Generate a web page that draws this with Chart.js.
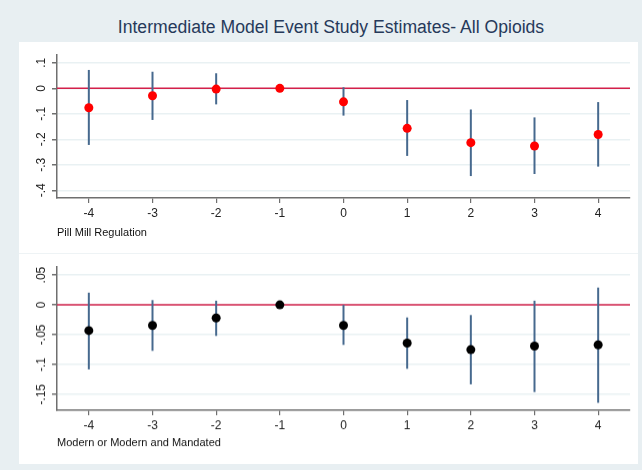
<!DOCTYPE html>
<html lang="en">
<head>
  <meta charset="UTF-8">
  <title>Intermediate Model Event Study Estimates</title>
  <script src="https://cdn.jsdelivr.net/npm/chart.js"></script>
  <style>
    body {
      margin: 0;
      width: 642px;
      height: 470px;
      background: #e8eff2;
      font-family: 'Liberation Sans', Arial, sans-serif;
      overflow: hidden;
      position: relative;
    }
    #title {
      position: absolute;
      left: 0;
      top: 17px;
      width: 662px;
      text-align: center;
      font-size: 17.6px;
      color: #26395a;
      line-height: 20px;
    }
    .panel {
      position: absolute;
      left: 19px;
      top: 42px;
      width: 619px;
      height: 422px;
      background: #ffffff;
    }
    canvas {
      position: absolute;
      left: 0;
    }
    #pillChart { top: 0; }
    #modChart { top: 211px; border-top: 1px solid #eef3f5; }
  </style>
</head>
<body>

<div id="title">Intermediate Model Event Study Estimates- All Opioids</div>

<div class="panel">
  <canvas id="pillChart" width="619" height="211"></canvas>
  <canvas id="modChart" width="619" height="210"></canvas>
</div>

<script>
  // event time
  const periods = [-4, -3, -2, -1, 0, 1, 2, 3, 4];

  // Pill Mill Regulation
  const pillEst = [-0.076, -0.029, -0.003, 0, -0.053, -0.157, -0.213, -0.226, -0.181];
  const pillLo  = [-0.222, -0.124, -0.063, null, -0.107, -0.265, -0.344, -0.336, -0.307];
  const pillHi  = [0.072, 0.065, 0.059, null, 0.004, -0.046, -0.083, -0.114, -0.054];
  const pillTicks  = [0.1, 0, -0.1, -0.2, -0.3, -0.4];
  const pillLabels = ['.1', '0', '-.1', '-.2', '-.3', '-.4'];

  // Modern or Modern and Mandated
  const modEst = [-0.043, -0.0345, -0.022, 0, -0.0345, -0.064, -0.075, -0.069, -0.067];
  const modLo  = [-0.108, -0.077, -0.052, null, -0.067, -0.107, -0.133, -0.146, -0.164];
  const modHi  = [0.0205, 0.008, 0.007, null, 0.0, -0.021, -0.017, 0.007, 0.029];
  const modTicks  = [0.05, 0, -0.05, -0.1, -0.15];
  const modLabels = ['.05', '0', '-.05', '-.1', '-.15'];

  const axisGrey = '#6f6f6f';
  const ciColor = '#46698e';
  const zeroColor = '#d3204a';

  // zero line, CI spikes and the rotated y labels
  const eventPlugin = {
    id: 'eventPlugin',
    beforeDatasetsDraw(chart) {
      const { ctx, chartArea, scales: { x, y } } = chart;
      const cfg = chart.options.plugins.eventPlugin;
      ctx.save();
      // reference line at zero
      ctx.strokeStyle = zeroColor;
      ctx.lineWidth = 1.5;
      ctx.beginPath();
      ctx.moveTo(chartArea.left, y.getPixelForValue(0));
      ctx.lineTo(chartArea.right, y.getPixelForValue(0));
      ctx.stroke();
      // confidence intervals
      ctx.strokeStyle = ciColor;
      ctx.lineWidth = 2;
      periods.forEach((p, i) => {
        if (cfg.lo[i] === null) return;
        const px = x.getPixelForValue(p);
        ctx.beginPath();
        ctx.moveTo(px, y.getPixelForValue(cfg.lo[i]));
        ctx.lineTo(px, y.getPixelForValue(cfg.hi[i]));
        ctx.stroke();
      });
      ctx.restore();
    },
    afterDraw(chart) {
      const { ctx, scales: { y } } = chart;
      const cfg = chart.options.plugins.eventPlugin;
      ctx.save();
      ctx.fillStyle = '#222';
      ctx.font = '12px "Liberation Sans", Arial, sans-serif';
      ctx.textAlign = 'center';
      ctx.textBaseline = 'middle';
      cfg.ticks.forEach((t, i) => {
        ctx.save();
        ctx.translate(y.left + 23, y.getPixelForValue(t));
        ctx.rotate(-Math.PI / 2);
        ctx.fillText(cfg.labels[i], 0, 0);
        ctx.restore();
      });
      ctx.restore();
    }
  };

  function makePanel(id, est, lo, hi, dotColor, yMin, yMax, yTicks, yLabels, subLabel, padTop, axisH) {
    const ctx = document.getElementById(id).getContext('2d');
    return new Chart(ctx, {
      type: 'scatter',
      data: {
        datasets: [{
          data: periods.map((p, i) => ({ x: p, y: est[i] })),
          backgroundColor: dotColor,
          borderWidth: 0,
          pointRadius: 4.5
        }]
      },
      options: {
        responsive: false,
        animation: false,
        devicePixelRatio: 1,
        layout: { padding: { top: padTop, right: 8, left: 0, bottom: 0 } },
        plugins: {
          legend: { display: false },
          tooltip: { enabled: false },
          eventPlugin: { lo: lo, hi: hi, ticks: yTicks, labels: yLabels }
        },
        scales: {
          x: {
            type: 'linear',
            min: -4.5,
            max: 4.5,
            afterBuildTicks: s => { s.ticks = periods.map(v => ({ value: v })); },
            afterFit: s => { s.height = axisH; },
            ticks: {
              color: '#222',
              font: { family: '"Liberation Sans", Arial, sans-serif', size: 12 },
              padding: 3,
              callback: v => String(v)
            },
            grid: { drawOnChartArea: false, tickLength: 5, tickColor: axisGrey, lineWidth: 1.2 },
            border: { color: axisGrey, width: 1.5 },
            title: {
              display: true,
              text: subLabel,
              align: 'start',
              color: '#111',
              font: { family: '"Liberation Sans", Arial, sans-serif', size: 11, lineHeight: 1 },
              padding: { top: 0, bottom: 15 }
            }
          },
          y: {
            min: yMin,
            max: yMax,
            afterBuildTicks: s => { s.ticks = yTicks.map(v => ({ value: v })); },
            afterFit: s => { s.width = 38; },
            ticks: { display: false },
            grid: { color: '#e9f1f3', lineWidth: 1.5, tickLength: 5, tickColor: axisGrey },
            border: { color: axisGrey, width: 1.5 }
          }
        }
      },
      plugins: [eventPlugin]
    });
  }

  makePanel('pillChart', pillEst, pillLo, pillHi, '#ff0000',
    -0.430, 0.1306, pillTicks, pillLabels, 'Pill Mill Regulation', 13, 55);
  makePanel('modChart', modEst, modLo, modHi, '#000000',
    -0.1765, 0.0635, modTicks, modLabels, 'Modern or Modern and Mandated', 13, 53);
</script>

</body>
</html>
